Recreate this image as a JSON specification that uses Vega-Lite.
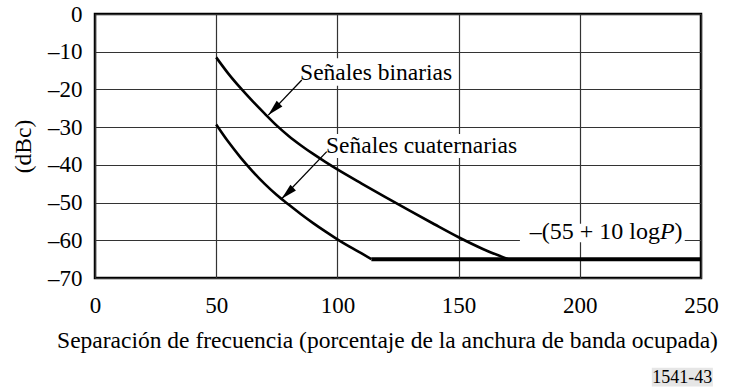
{
  "$schema": "https://vega.github.io/schema/vega-lite/v6.json",
  "width": 606,
  "height": 264,
  "autosize": {"type": "none"},
  "padding": {"left": 95, "top": 14, "right": 30, "bottom": 112},
  "background": "white",
  "config": {
    "view": {"stroke": "#000", "strokeWidth": 2.5},
    "font": "Liberation Serif",
    "text": {"font": "Liberation Serif"},
    "axis": {
      "domain": false,
      "ticks": false,
      "grid": true,
      "gridColor": "#333",
      "gridWidth": 1.2,
      "labelFont": "Liberation Serif",
      "labelFontSize": 23,
      "labelColor": "#000",
      "titleFont": "Liberation Serif",
      "titleFontSize": 23.5,
      "titleFontWeight": "normal",
      "titleColor": "#000"
    }
  },
  "datasets": {
    "curves": [
      {"serie": "binarias", "x": 50, "y": -11.5},
      {"serie": "binarias", "x": 55, "y": -15.8},
      {"serie": "binarias", "x": 60, "y": -19.6},
      {"serie": "binarias", "x": 65, "y": -23.1},
      {"serie": "binarias", "x": 70, "y": -26.4},
      {"serie": "binarias", "x": 75, "y": -29.6},
      {"serie": "binarias", "x": 80, "y": -32.4},
      {"serie": "binarias", "x": 85, "y": -34.85},
      {"serie": "binarias", "x": 90, "y": -37.1},
      {"serie": "binarias", "x": 95, "y": -39.2},
      {"serie": "binarias", "x": 100, "y": -41.2},
      {"serie": "binarias", "x": 110, "y": -44.95},
      {"serie": "binarias", "x": 120, "y": -48.6},
      {"serie": "binarias", "x": 130, "y": -52.2},
      {"serie": "binarias", "x": 140, "y": -55.75},
      {"serie": "binarias", "x": 150, "y": -59.2},
      {"serie": "binarias", "x": 160, "y": -62.3},
      {"serie": "binarias", "x": 170.5, "y": -65},
      {"serie": "cuaternarias", "x": 50, "y": -29.3},
      {"serie": "cuaternarias", "x": 55, "y": -33.9},
      {"serie": "cuaternarias", "x": 60, "y": -38.0},
      {"serie": "cuaternarias", "x": 65, "y": -41.7},
      {"serie": "cuaternarias", "x": 70, "y": -45.05},
      {"serie": "cuaternarias", "x": 75, "y": -48.0},
      {"serie": "cuaternarias", "x": 80, "y": -50.6},
      {"serie": "cuaternarias", "x": 85, "y": -53.1},
      {"serie": "cuaternarias", "x": 90, "y": -55.45},
      {"serie": "cuaternarias", "x": 95, "y": -57.65},
      {"serie": "cuaternarias", "x": 100, "y": -59.75},
      {"serie": "cuaternarias", "x": 105, "y": -61.7},
      {"serie": "cuaternarias", "x": 110, "y": -63.5},
      {"serie": "cuaternarias", "x": 114, "y": -65},
      {"serie": "piso", "x": 114, "y": -65},
      {"serie": "piso", "x": 250, "y": -65}
    ],
    "boxes": [
      {"x": 84.0, "x2": 148.6, "y": -11.7, "y2": -19.0},
      {"x": 94.9, "x2": 175.7, "y": -31.8, "y2": -38.2},
      {"x": 175.3, "x2": 243.3, "y": -55.6, "y2": -60.5}
    ],
    "codebox": [
      {"x": 229.7, "x2": 254.9, "y": -93.8, "y2": -98.8}
    ],
    "arrows": [
      {"serie": "binarias", "x": 85.3, "y": -17.5, "x2": 71.5, "y2": -26.8},
      {"serie": "cuaternarias", "x": 95.6, "y": -36.5, "x2": 77.0, "y2": -49.0}
    ],
    "tips": [
      {"serie": "binarias", "x": 71.5, "y": -26.8},
      {"serie": "cuaternarias", "x": 77.0, "y": -49.0}
    ],
    "labels": [
      {"label": "Señales binarias", "x": 84.6, "y": -17.4},
      {"label": "Señales cuaternarias", "x": 95.3, "y": -36.9}
    ],
    "formula": [
      {"part": "a", "label": "–(55 + 10 log\u00a0", "x": 233.1, "y": -60},
      {"part": "b", "label": "P", "x": 233.1, "y": -60},
      {"part": "c", "label": ")", "x": 239.1, "y": -60}
    ],
    "code": [
      {"label": "1541-43", "x": 242.3, "y": -97.9}
    ]
  },
  "encoding": {
    "x": {
      "field": "x",
      "type": "quantitative",
      "scale": {"domain": [0, 250], "nice": false, "zero": false},
      "axis": {
        "values": [0, 50, 100, 150, 200, 250],
        "labelFlush": false,
        "labelOverlap": false,
        "labelPadding": 16,
        "titlePadding": 11,
        "titleX": 292,
        "title": "Separación de frecuencia (porcentaje de la anchura de banda ocupada)"
      }
    },
    "y": {
      "field": "y",
      "type": "quantitative",
      "scale": {"domain": [-70, 0], "nice": false, "zero": false},
      "axis": {
        "values": [-70, -60, -50, -40, -30, -20, -10, 0],
        "labelExpr": "datum.value < 0 ? '–' + (-datum.value) : '0'",
        "labelPadding": 13,
        "titlePadding": 12,
        "title": "(dBc)"
      }
    }
  },
  "layer": [
    {
      "data": {"name": "boxes"},
      "mark": {"type": "rect", "fill": "white", "stroke": null},
      "encoding": {"x2": {"field": "x2"}, "y2": {"field": "y2"}}
    },
    {
      "data": {"name": "codebox"},
      "mark": {"type": "rect", "fill": "#e6e6e6", "stroke": null},
      "encoding": {"x2": {"field": "x2"}, "y2": {"field": "y2"}}
    },
    {
      "data": {"name": "curves"},
      "transform": [{"filter": "datum.serie !== 'piso'"}],
      "mark": {"type": "line", "color": "#000", "strokeWidth": 2.6, "interpolate": "monotone"},
      "encoding": {"detail": {"field": "serie"}}
    },
    {
      "data": {"name": "curves"},
      "transform": [{"filter": "datum.serie === 'piso'"}],
      "mark": {"type": "line", "color": "#000", "strokeWidth": 4},
      "encoding": {"detail": {"field": "serie"}}
    },
    {
      "data": {"name": "arrows"},
      "mark": {"type": "rule", "color": "#000", "strokeWidth": 1.3},
      "encoding": {"x2": {"field": "x2"}, "y2": {"field": "y2"}}
    },
    {
      "data": {"name": "tips"},
      "transform": [{"filter": "datum.serie === 'binarias'"}],
      "mark": {"type": "point", "shape": "M0,0L-0.25,1L0.25,1Z", "filled": true, "color": "#000", "size": 1024, "angle": 224.5, "opacity": 1}
    },
    {
      "data": {"name": "tips"},
      "transform": [{"filter": "datum.serie === 'cuaternarias'"}],
      "mark": {"type": "point", "shape": "M0,0L-0.25,1L0.25,1Z", "filled": true, "color": "#000", "size": 1024, "angle": 226.1, "opacity": 1}
    },
    {
      "data": {"name": "labels"},
      "mark": {"type": "text", "align": "left", "baseline": "alphabetic", "fontSize": 23.5, "font": "Liberation Serif", "color": "#000"},
      "encoding": {"text": {"field": "label"}}
    },
    {
      "data": {"name": "formula"},
      "transform": [{"filter": "datum.part === 'a'"}],
      "mark": {"type": "text", "align": "right", "baseline": "alphabetic", "dy": -1, "fontSize": 24, "font": "Liberation Serif", "color": "#000"},
      "encoding": {"text": {"field": "label"}}
    },
    {
      "data": {"name": "formula"},
      "transform": [{"filter": "datum.part === 'b'"}],
      "mark": {"type": "text", "align": "left", "baseline": "alphabetic", "dy": -1, "fontSize": 24, "fontStyle": "italic", "font": "Liberation Serif", "color": "#000"},
      "encoding": {"text": {"field": "label"}}
    },
    {
      "data": {"name": "formula"},
      "transform": [{"filter": "datum.part === 'c'"}],
      "mark": {"type": "text", "align": "left", "baseline": "alphabetic", "dy": -1, "fontSize": 24, "font": "Liberation Serif", "color": "#000"},
      "encoding": {"text": {"field": "label"}}
    },
    {
      "data": {"name": "code"},
      "mark": {"type": "text", "align": "center", "baseline": "alphabetic", "fontSize": 18, "font": "Liberation Serif", "color": "#000"},
      "encoding": {"text": {"field": "label"}}
    }
  ]
}
